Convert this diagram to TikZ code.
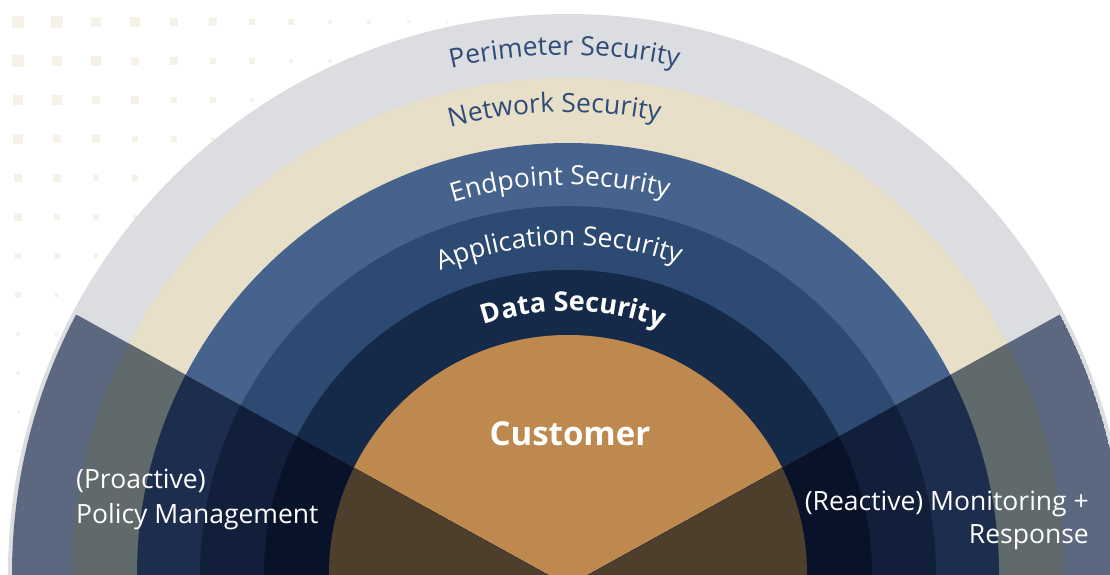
\documentclass[tikz,border=0pt]{standalone}
\usepackage{fontspec}
\setmainfont{Open Sans}
\usetikzlibrary{decorations.text}
\definecolor{cPer}{HTML}{DCDDE0}
\definecolor{cNet}{HTML}{E8DFC8}
\definecolor{cEnd}{HTML}{46638E}
\definecolor{cApp}{HTML}{2D4A72}
\definecolor{cDat}{HTML}{152949}
\definecolor{cCus}{HTML}{BE894F}
\definecolor{dPer}{HTML}{5B6880}
\definecolor{dNet}{HTML}{616A6A}
\definecolor{dEnd}{HTML}{1C2D4D}
\definecolor{dApp}{HTML}{121F3B}
\definecolor{dDat}{HTML}{08132A}
\definecolor{dCus}{HTML}{4D3F2C}
\definecolor{txtblue}{HTML}{2F4B78}
\definecolor{dotc}{HTML}{F6F2E8}
\tikzset{
  sidelabel/.style={inner sep=0pt, text=white, font=\fontsize{26.5}{30}\selectfont},
}
\begin{document}
\begin{tikzpicture}[x=1pt,y=1pt]
\useasboundingbox (0,0) rectangle (1110,574);
\clip (0,0) rectangle (1110,574);
% dot grid
\foreach \i in {0,...,11}{
  \foreach \j in {0,...,11}{
    \pgfmathsetmacro\s{12-0.9*(\i+\j)}
    \ifdim\s pt>1.5pt
      \fill[dotc] ({18+39*\i-\s/2},{552-39*\j-\s/2}) rectangle ++(\s,\s);
    \fi
  }
}
% rings
\foreach \r/\c in {560/cPer,496/cNet,431/cEnd,368/cApp,304/cDat,239/cCus}
  \fill[\c] (568,0) circle[radius=\r];
% left wedge
\begin{scope}
  \clip (568,0) circle[radius=556];
  \clip (568,-12) -- ++(151.1:800) -- ++(0,-900) -- cycle;
  \foreach \r/\c in {556/dPer,496/dNet,431/dEnd,368/dApp,304/dDat,239/dCus}
    \fill[\c] (568,0) circle[radius=\r];
\end{scope}
% right wedge
\begin{scope}
  \clip (568,0) circle[radius=556];
  \clip (568,-12) -- ++(28.9:800) -- ++(0,-900) -- cycle;
  \foreach \r/\c in {556/dPer,496/dNet,431/dEnd,368/dApp,304/dDat,239/dCus}
    \fill[\c] (568,0) circle[radius=\r];
\end{scope}
% curved labels
\path[decorate, decoration={text along path, text align=center,
  text={|\fontsize{26.5}{30}\selectfont\color{txtblue}|Perimeter Security}}]
  (568,0) ++(130.4:519) arc[start angle=130.4, end angle=50.4, radius=519];
\path[decorate, decoration={text along path, text align=center,
  text={|\fontsize{26.5}{30}\selectfont\color{txtblue}|Network Security}}]
  (568,0) ++(131.7:462) arc[start angle=131.7, end angle=51.7, radius=462];
\path[decorate, decoration={text along path, text align=center,
  text={|\fontsize{26.5}{30}\selectfont\color{white}|Endpoint Security}}]
  (568,0) ++(131.2:389) arc[start angle=131.2, end angle=51.2, radius=389];
\path[decorate, decoration={text along path, text align=center,
  text={|\fontsize{26.5}{30}\selectfont\color{white}|Application Security}}]
  (568,0) ++(131.6:329) arc[start angle=131.6, end angle=51.6, radius=329];
\path[decorate, decoration={text along path, text align=center,
  text={|\fontsize{27}{30}\selectfont\bfseries\color{white}|Data Security}}]
  (568,0) ++(128.9:263) arc[start angle=128.9, end angle=48.9, radius=263];
% straight labels
\node[inner sep=0pt, text=white, font=\fontsize{33}{40}\selectfont\bfseries, anchor=base] (cust) at (570,129) {Customer};
\node[sidelabel, anchor=base west] (pro1) at (76,86) {(Proactive)};
\node[sidelabel, anchor=base west] (pro2) at (76,51) {Policy Management};
\node[sidelabel, anchor=base east] (re1) at (1089,64) {(Reactive) Monitoring +};
\node[sidelabel, anchor=base east] (re2) at (1089,31) {Response};
\end{tikzpicture}
\end{document}
